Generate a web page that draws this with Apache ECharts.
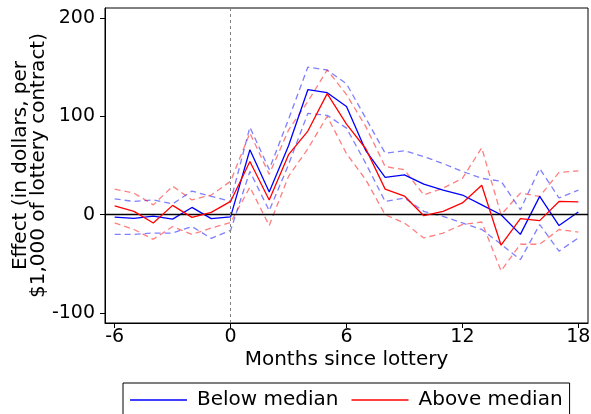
<!DOCTYPE html>
<html>
<head>
<meta charset="utf-8">
<script src="https://cdn.jsdelivr.net/npm/echarts@6/dist/echarts.min.js"></script>
<style>
html,body{margin:0;padding:0;background:#fff;}
#c{width:591px;height:414px;}
</style>
</head>
<body>
<div id="c"></div>
<script>
const months = [-6,-5,-4,-3,-2,-1,0,1,2,3,4,5,6,7,8,9,10,11,12,13,14,15,16,17,18];
const xTicks = [-6,0,6,12,18];
const yTicks = [-100,0,100,200];

const below      = [-2.4,-3.7,-1.4,-4.5,7.4,-4,-2.2,66,23,70,127,124,110,65,38,40.5,31,25,20,10,0,-20,18.6,-11,2.7];
const belowUpper = [16,13.5,15,11,24,18.6,13.5,89,46,97,150,147,133,98,62.5,65,59,52,44,37,34,5,47,17,25];
const belowLower = [-20,-20,-18.6,-18.6,-12,-24,-16,44,4,51,103,101,88,52,13.5,17,3.4,-1.7,-8.4,-15,-30,-45.6,-10,-37,-23.6];

const above      = [9,3.4,-8.4,9.5,-2.7,2.4,13.5,54,15,61,85,123,92,67,26,19,-1,3.4,12,30,-31,-4,-6,13.5,13];
const aboveUpper = [26,22,10,29,15,20,34,83,41,86,115,147,122,89.5,49,45.6,20,27,37,68,0,22,18.6,43,44.6];
const aboveLower = [-8.4,-15,-25,-12,-20,-13.5,-8,28,-11,39,67,100,62,35.5,0,-8.4,-23.6,-18.6,-10,-7.4,-57,-30,-30,-15,-17.6];

const pairs = v => months.map((m,i) => [m, v[i]]);
const FONT = 'DejaVu Sans';

function band(name, vals, color){
  return {
    name: name, type: 'line', data: pairs(vals), showSymbol: false, silent: true,
    lineStyle: {color: color, width: 1.3, type: [6,4]}, z: 2, animation: false
  };
}

const chart = echarts.init(document.getElementById('c'), null, {renderer: 'canvas'});
chart.setOption({
  animation: false,
  grid: {left: 105, right: 3, top: 8, bottom: 91, show: true, borderColor: '#000', borderWidth: 1,
         containLabel: false, outerBoundsMode: 'none'},
  xAxis: {
    type: 'value', min: -6.5, max: 18.5,
    name: 'Months since lottery', nameLocation: 'middle', nameGap: 27, nameMoveOverlap: false,
    nameTextStyle: {fontFamily: FONT, fontSize: 20, color: '#000'},
    axisLine: {show: true, onZero: false, lineStyle: {color: '#000', width: 1}},
    axisTick: {show: true, length: 5, lineStyle: {color: '#000'}, customValues: xTicks},
    axisLabel: {fontFamily: FONT, fontSize: 19, color: '#000', margin: 5, customValues: xTicks},
    splitLine: {show: false}
  },
  yAxis: {
    type: 'value', min: -110, max: 210,
    name: 'Effect (in dollars, per\n$1,000 of lottery contract)', nameLocation: 'middle', nameGap: 57,
    nameMoveOverlap: false,
    nameTextStyle: {fontFamily: FONT, fontSize: 20, color: '#000', lineHeight: 18},
    axisLine: {show: true, onZero: false, lineStyle: {color: '#000', width: 1}},
    axisTick: {show: true, length: 5, lineStyle: {color: '#000'}, customValues: yTicks},
    axisLabel: {fontFamily: FONT, fontSize: 19, color: '#000', margin: 10, customValues: yTicks},
    splitLine: {show: false}
  },
  legend: {
    data: ['Below median', 'Above median'],
    left: 123, top: 383,
    icon: 'rect', itemWidth: 57, itemHeight: 1.5, itemGap: 13,
    padding: [7, 7, 8, 7],
    borderColor: '#000', borderWidth: 1,
    textStyle: {fontFamily: FONT, fontSize: 20, color: '#000', padding: [0,0,0,5]}
  },
  series: [
    band('bu', belowUpper, 'rgba(0,0,255,0.5)'),
    band('bl', belowLower, 'rgba(0,0,255,0.5)'),
    band('au', aboveUpper, 'rgba(255,0,0,0.5)'),
    band('al', aboveLower, 'rgba(255,0,0,0.5)'),
    {
      name: 'Below median', type: 'line', data: pairs(below), showSymbol: false,
      color: '#0000ff', lineStyle: {color: '#0000ff', width: 1.3}, z: 4,
      markLine: {
        silent: true, symbol: 'none', label: {show: false}, animation: false,
        data: [
          {yAxis: 0, lineStyle: {color: '#000', width: 1.3, type: 'solid'}},
          {xAxis: 0, lineStyle: {color: '#808080', width: 1, type: [3,3]}}
        ]
      }
    },
    {
      name: 'Above median', type: 'line', data: pairs(above), showSymbol: false,
      color: '#ff0000', lineStyle: {color: '#ff0000', width: 1.3}, z: 5
    }
  ]
});
</script>
</body>
</html>
